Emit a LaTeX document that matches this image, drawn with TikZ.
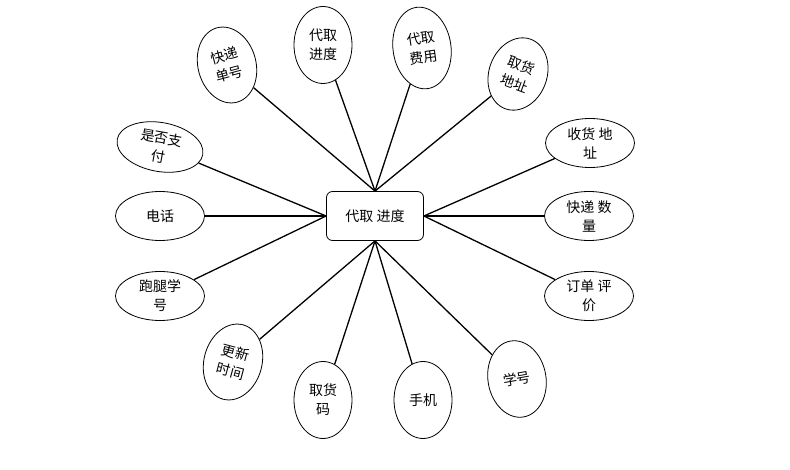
\documentclass[tikz,border=0pt]{standalone}
\usepackage{fontspec}
\newfontfamily\cjk{Noto Sans CJK SC}
\usetikzlibrary{shapes.geometric,positioning}

\begin{document}
\begin{tikzpicture}[x=1pt,y=-1pt,
    font=\cjk\fontsize{14}{19}\selectfont,
    wideattr/.style={ellipse,draw,line width=0.8pt,inner sep=0pt,align=center,
        minimum width=89pt,minimum height=49pt},
    tallattr/.style={ellipse,draw,line width=0.8pt,inner sep=0pt,align=center,
        minimum width=58pt,minimum height=77pt},
    link/.style={line width=1.3pt}]
    \useasboundingbox (0,0) rectangle (790,470);

    % Central entity
    \node[draw,line width=0.8pt,rounded corners=6pt,minimum width=97pt,minimum height=49pt]
        (progress) at (375,216) {代取 进度};

    % Attributes above
    \node[tallattr,rotate=15] (waybill) at (227,65) {快递\\单号};
    \node[tallattr] (status) at (323,45) {代取\\进度};
    \node[tallattr,rotate=8,minimum height=82pt] (fee) at (422,48) {代取\\费用};
    \node[tallattr,rotate=-20,minimum height=74pt] (pickaddr) at (518,74) {取货\\地址};

    % Attributes on the left
    \node[wideattr,rotate=-10,minimum width=87pt] (paid) at (160,147) {是否支\\付};
    \node[wideattr] (phone) at (160,216) {电话};
    \node[wideattr] (runnerid) at (160,296) {跑腿学\\号};

    % Attributes on the right
    \node[wideattr] (recvaddr) at (590,143) {收货 地\\址};
    \node[wideattr] (amount) at (589,216) {快递 数\\量};
    \node[wideattr] (review) at (589,296) {订单 评\\价};

    % Attributes below
    \node[tallattr,rotate=-15] (updated) at (233,362) {更新\\时间};
    \node[tallattr] (pickcode) at (323,400) {取货\\码};
    \node[tallattr] (mobile) at (423,400) {手机};
    \node[tallattr,rotate=10] (studentid) at (517,379) {学号};

    % Connectors
    \foreach \a in {waybill,status,fee,pickaddr}
        \draw[link] (\a) -- (progress.north);
    \foreach \a in {paid,phone,runnerid}
        \draw[link] (\a) -- (progress.west);
    \foreach \a in {recvaddr,amount,review}
        \draw[link] (\a) -- (progress.east);
    \foreach \a in {updated,pickcode,mobile,studentid}
        \draw[link] (\a) -- (progress.south);
\end{tikzpicture}
\end{document}
